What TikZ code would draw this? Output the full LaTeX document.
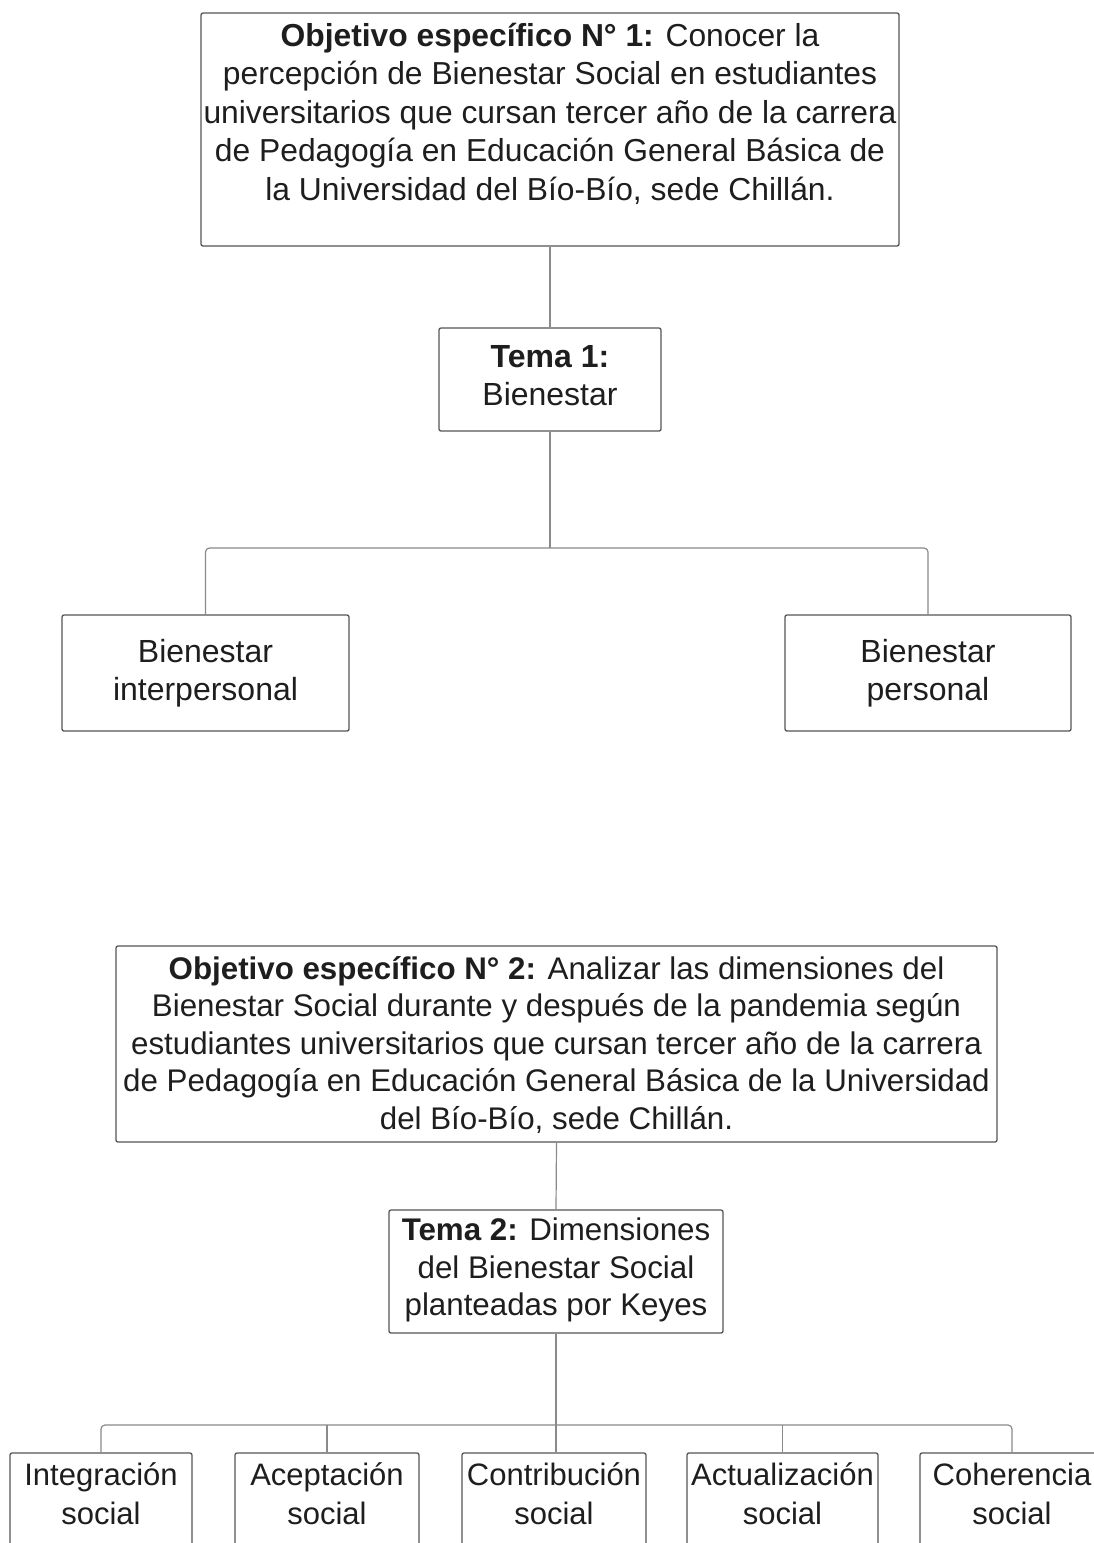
\documentclass[tikz,border=0pt]{standalone}
\usepackage{fontspec}
\setmainfont{Liberation Sans}
\definecolor{txtc}{HTML}{1E1E1E}
\definecolor{boxc}{HTML}{555555}
\definecolor{linec}{HTML}{8A8A8A}
\tikzset{
  boxstyle/.style={draw=boxc, line width=1.3pt, rounded corners=2pt, fill=white, inner sep=0pt},
  txt/.style={text=txtc, align=center, inner sep=0pt, font=\fontsize{31}{38.5}\selectfont},
  conn/.style={draw=linec, line width=1.2pt, rounded corners=4pt}
}
\begin{document}
\begin{tikzpicture}[x=1pt,y=-1pt]
\useasboundingbox (0,0) rectangle (1094,1543);
\clip (0,0) rectangle (1094,1543);
\fill[white] (0,0) rectangle (1094,1543);

% Objective 1
\node[boxstyle, minimum width=698pt, minimum height=233pt] (o1) at (550,129.5) {};
\node[txt, font=\fontsize{31.8}{38.5}\selectfont] (o1t) at (550,113.5) {\textbf{Objetivo específico N° 1:} Conocer la\\percepción de Bienestar Social en estudiantes\\universitarios que cursan tercer año de la carrera\\de Pedagogía en Educación General Básica de\\la Universidad del Bío-Bío, sede Chillán.};

% Tema 1
\node[boxstyle, minimum width=222pt, minimum height=103pt] (t1) at (550,379.5) {};
\node[txt, font=\fontsize{32}{38.5}\selectfont] (t1t) at (550,375.5) {\textbf{Tema 1:}\\Bienestar};

% Bienestar children
\node[boxstyle, txt, draw=boxc, minimum width=287pt, minimum height=116pt, font=\fontsize{32}{38.5}\selectfont] (bi) at (205.5,673) {Bienestar\\interpersonal};
\node[boxstyle, txt, draw=boxc, minimum width=286pt, minimum height=116pt, font=\fontsize{32}{38.5}\selectfont] (bp) at (928,673) {Bienestar\\personal};

\coordinate (bar1) at (550,548);
\draw[conn] (o1.south) -- (t1.north);
\draw[conn] (t1.south) -- (bar1);
\draw[conn] (bi.north) |- (bar1) -| (bp.north);

% Objective 2
\node[boxstyle, minimum width=881pt, minimum height=196pt] (o2) at (556.5,1044) {};
\node[txt, font=\fontsize{31.3}{37.5}\selectfont] (o2t) at (556.5,1045) {\textbf{Objetivo específico N° 2:} Analizar las dimensiones del\\Bienestar Social durante y después de la pandemia según\\estudiantes universitarios que cursan tercer año de la carrera\\de Pedagogía en Educación General Básica de la Universidad\\del Bío-Bío, sede Chillán.};

% Tema 2
\node[boxstyle, minimum width=334pt, minimum height=123pt] (t2) at (556,1271.5) {};
\node[txt, font=\fontsize{31.3}{37.5}\selectfont] (t2t) at (556,1270) {\textbf{Tema 2:} Dimensiones\\del Bienestar Social\\planteadas por Keyes};

% Dimension boxes (cut by the bottom edge)
\node[boxstyle, minimum width=182pt, minimum height=160pt] (c1) at (101,1533) {};
\node[boxstyle, minimum width=184pt, minimum height=160pt] (c2) at (327,1533) {};
\node[boxstyle, minimum width=184pt, minimum height=160pt] (c3) at (554,1533) {};
\node[boxstyle, minimum width=191pt, minimum height=160pt] (c4) at (782.5,1533) {};
\node[boxstyle, minimum width=184pt, minimum height=160pt] (c5) at (1012,1533) {};

\node[txt] (c1t) at (101,1491.5) {\vphantom{Íg}Integración\\social};
\node[txt] (c2t) at (327,1491.5) {\vphantom{Íg}Aceptación\\social};
\node[txt] (c3t) at (554,1491.5) {\vphantom{Íg}Contribución\\social};
\node[txt] (c4t) at (782.5,1491.5) {\vphantom{Íg}Actualización\\social};
\node[txt] (c5t) at (1012,1491.5) {\vphantom{Íg}Coherencia\\social};

\coordinate (bar2) at (556,1425);
\draw[conn] (o2.south) -- (t2.north);
\draw[conn] (t2.south) -- (t2.south |- c3.north);
\draw[conn] (c1.north) |- (bar2) -| (c5.north);
\draw[conn] (c2.north) -- (c2.north |- bar2);
\draw[conn] (c4.north) -- (c4.north |- bar2);
\end{tikzpicture}
\end{document}
